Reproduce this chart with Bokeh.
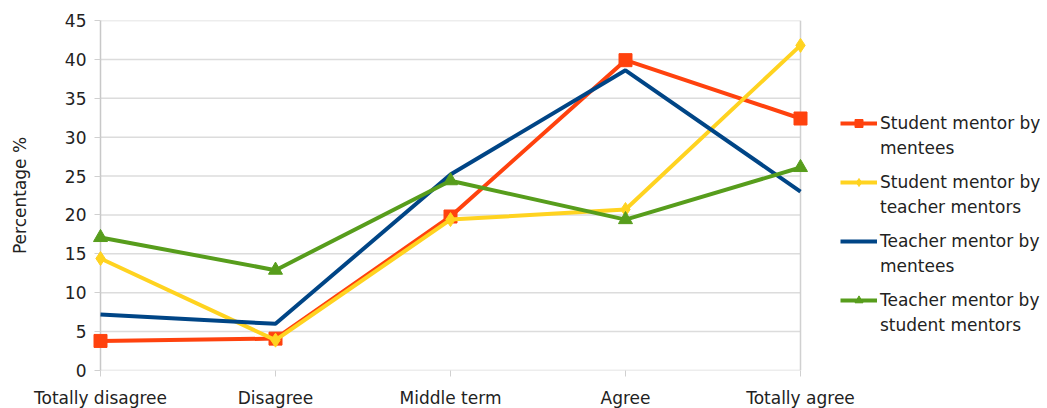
from bokeh.plotting import figure
from bokeh.models import Range1d, FixedTicker, Legend, LegendItem, Span
from bokeh.embed import file_html
from bokeh.resources import INLINE

categories = ["Totally disagree", "Disagree", "Middle term", "Agree", "Totally agree"]
student_by_mentees = [3.8, 4.1, 19.8, 39.9, 32.4]
student_by_teachers = [14.4, 3.9, 19.4, 20.7, 41.8]
teacher_by_mentees = [7.2, 6.0, 25.2, 38.6, 23.0]
teacher_by_students = [17.1, 12.9, 24.4, 19.4, 26.1]
names_line1 = ["Student mentor by", "Student mentor by", "Teacher mentor by", "Teacher mentor by"]
names_line2 = ["mentees", "teacher mentors", "mentees", "student mentors"]
y_ticks = [0, 5, 10, 15, 20, 25, 30, 35, 40, 45]

FONT = "DejaVu Sans"
FS = "17px"
TXT = "#222222"
xs = list(range(len(categories)))
last = len(categories) - 1

# plot area (categories) is 700px wide; the frame is extended to the right to host the legend
FRAME_W = 940
p = figure(frame_width=FRAME_W, frame_height=350,
           min_border_left=100, min_border_right=5, min_border_top=20, min_border_bottom=30,
           x_range=Range1d(0, last * FRAME_W / 700), y_range=Range1d(0, 45),
           output_backend="svg", toolbar_location=None, background_fill_color="white",
           border_fill_color="white")
p.outline_line_color = None

p.xaxis.ticker = FixedTicker(ticks=xs)
p.xaxis.major_label_overrides = {i: c for i, c in enumerate(categories)}
p.yaxis.ticker = FixedTicker(ticks=y_ticks)
p.yaxis.axis_label = "Percentage %"

for ax in (p.xaxis[0], p.yaxis[0]):
    ax.major_label_text_font = FONT
    ax.major_label_text_font_size = FS
    ax.major_label_text_color = TXT
    ax.axis_label_text_font = FONT
    ax.axis_label_text_font_size = FS
    ax.axis_label_text_font_style = "normal"
    ax.axis_label_text_color = TXT
    ax.minor_tick_line_color = None
    ax.major_tick_line_color = "#d0d0d0"
    ax.major_tick_in = 0
    ax.major_tick_out = 6

p.xaxis.axis_line_color = None
p.yaxis.axis_line_color = "#c8c8c8"
p.yaxis.axis_line_width = 1.5
p.xaxis.major_label_standoff = 11
p.yaxis.major_label_standoff = 8
p.yaxis.axis_label_standoff = 32

p.xgrid.grid_line_color = None
p.ygrid.grid_line_color = None
# horizontal grid lines limited to the category area
p.segment(x0=[xs[0]] * len(y_ticks), y0=y_ticks, x1=[last] * len(y_ticks), y1=y_ticks,
          line_color="#dcdcdc", line_width=1.5, level="underlay")
p.add_layout(Span(location=last, dimension="height", line_color="#d0d0d0", line_width=1.5))

colors = ["#FF420E", "#FFD320", "#004586", "#579D1C"]
data = [student_by_mentees, student_by_teachers, teacher_by_mentees, teacher_by_students]
markers = ["square", "diamond", None, "triangle"]
sizes = [13, 14, 0, 14]

items1, items2 = [], []
for n1, n2, ys, col, mk, sz in zip(names_line1, names_line2, data, colors, markers, sizes):
    r = p.line(xs, ys, line_color=col, line_width=4, level="overlay")
    rs = [r]
    if mk:
        m = p.scatter(xs, ys, marker=mk, size=sz, fill_color=col, line_color=col, level="overlay")
        rs.append(m)
    items1.append(LegendItem(label=n1, renderers=rs))
    items2.append(LegendItem(label=n2, renderers=[r]))

common = dict(orientation="vertical", label_text_font=FONT, label_text_font_size=FS,
              label_text_color=TXT, padding=0, margin=0, border_line_color=None,
              background_fill_alpha=0, label_text_line_height=1.2, spacing=39,
              glyph_height=20, label_height=20)
legend1 = Legend(items=items1, location=(740, 60), glyph_width=37, label_standoff=3, **common)
legend2 = Legend(items=items2, location=(780, 35), glyph_width=0, label_standoff=0, **common)
p.add_layout(legend1)
p.add_layout(legend2)

open("out.html", "w").write(file_html(p, INLINE))
